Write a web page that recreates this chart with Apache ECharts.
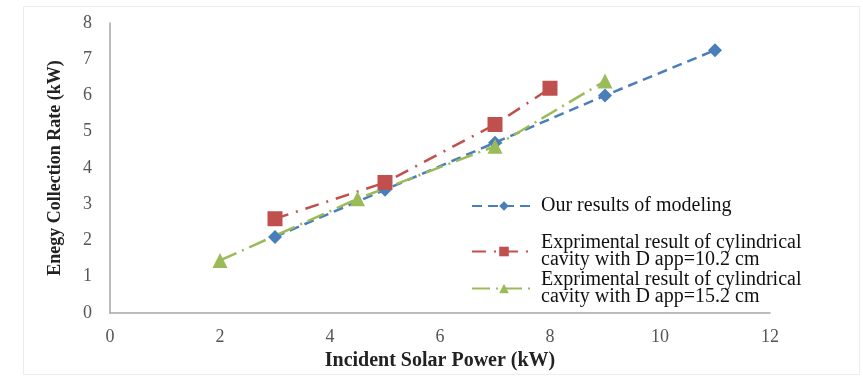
<!DOCTYPE html>
<html>
<head>
<meta charset="utf-8">
<script src="https://cdn.jsdelivr.net/npm/echarts@6/dist/echarts.min.js"></script>
<style>
html,body{margin:0;padding:0;background:#fff;}
#c{width:863px;height:378px;}
</style>
</head>
<body>
<div id="c"></div>
<script>
const seriesNames = [
  'Our results of modeling',
  'Exprimental result of cylindrical\ncavity with D app=10.2 cm',
  'Exprimental result of cylindrical\ncavity with D app=15.2 cm'
];
const modelX = [3, 5, 7, 9, 11];
const modelY = [2.1, 3.4, 4.7, 6.0, 7.25];
const exp102X = [3, 5, 7, 8];
const exp102Y = [2.6, 3.6, 5.2, 6.2];
const exp152X = [2, 4.5, 7, 9];
const exp152Y = [1.45, 3.15, 4.6, 6.4];
const xTicks = [0, 2, 4, 6, 8, 10, 12];
const yTicks = [0, 1, 2, 3, 4, 5, 6, 7, 8];

const pair = (xs, ys) => xs.map((x, i) => [x, ys[i]]);
const serif = '"Liberation Serif", "DejaVu Serif", serif';

const chart = echarts.init(document.getElementById('c'), null, {renderer: 'canvas'});
chart.setOption({
  animation: false,
  backgroundColor: '#fff',
  graphic: [{
    type: 'rect', left: 21, top: 4,
    shape: {width: 836, height: 368},
    style: {fill: 'none', stroke: '#ececec', lineWidth: 1}
  }],
  grid: {left: 110, right: 93, top: 23, bottom: 65},
  xAxis: {
    type: 'value', min: xTicks[0], max: xTicks[xTicks.length - 1], interval: 2,
    name: 'Incident Solar Power (kW)', nameLocation: 'middle', nameGap: 34,
    nameTextStyle: {fontFamily: serif, fontWeight: 'bold', fontSize: 20, color: '#222'},
    axisLine: {lineStyle: {color: '#a6a6a6', width: 1.5}},
    axisTick: {show: false},
    axisLabel: {fontFamily: serif, fontSize: 18, color: '#555', margin: 15},
    splitLine: {show: false}
  },
  yAxis: {
    type: 'value', min: yTicks[0], max: yTicks[yTicks.length - 1], interval: 1,
    name: 'Enegy Collection Rate (kW)', nameLocation: 'middle', nameGap: 46,
    nameTextStyle: {fontFamily: serif, fontWeight: 'bold', fontSize: 18, color: '#222'},
    axisLine: {show: true, lineStyle: {color: '#a6a6a6', width: 1.5}},
    axisTick: {show: false},
    axisLabel: {fontFamily: serif, fontSize: 18, color: '#555', margin: 18},
    splitLine: {show: false}
  },
  legend: [{
    data: [seriesNames[0]],
    orient: 'vertical', left: 466, top: 191,
    itemWidth: 64, itemHeight: 12,
    textStyle: {fontFamily: serif, fontSize: 20, color: '#111', lineHeight: 17}
  }, {
    data: [seriesNames[1], seriesNames[2]],
    orient: 'vertical', left: 466, top: 228, itemGap: 0,
    itemWidth: 64, itemHeight: 12,
    textStyle: {fontFamily: serif, fontSize: 20, color: '#111', lineHeight: 17}
  }],
  series: [{
    name: seriesNames[0], type: 'line',
    data: pair(modelX, modelY),
    symbol: 'diamond', symbolSize: 14,
    itemStyle: {color: '#4a7ebb'},
    lineStyle: {color: '#4a7ebb', width: 2.5, type: [10, 6]}
  }, {
    name: seriesNames[1], type: 'line',
    data: pair(exp102X, exp102Y),
    symbol: 'rect', symbolSize: 15,
    itemStyle: {color: '#c0504d'},
    lineStyle: {color: '#c0504d', width: 2.5, type: [14, 8, 2, 8]}
  }, {
    name: seriesNames[2], type: 'line',
    data: pair(exp152X, exp152Y),
    symbol: 'triangle', symbolSize: 15,
    itemStyle: {color: '#9bbb59'},
    lineStyle: {color: '#9bbb59', width: 2.5, type: [18, 6, 2, 6]}
  }]
});
</script>
</body>
</html>
